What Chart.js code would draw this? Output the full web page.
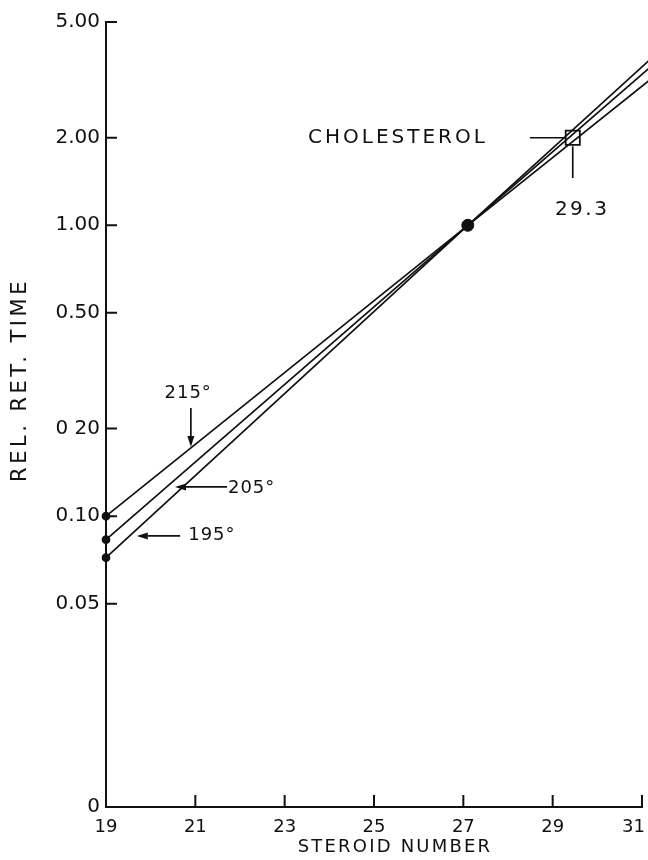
<!DOCTYPE html>
<html>
<head>
<meta charset="utf-8">
<script src="https://cdn.jsdelivr.net/npm/chart.js@4.4.1/dist/chart.umd.min.js"></script>
<style>
  body { margin: 0; background: #fff; }
  #chart { display: block; }
</style>
</head>
<body>
<canvas id="chart" width="648" height="860"></canvas>
<script>
// values
const steroidNum = [19, 27.1, 31.15];
const rrt215 = [0.100, 1.00, 3.14];
const rrt205 = [0.083, 1.00, 3.46];
const rrt195 = [0.072, 1.00, 3.68];

const commonX = [27.1];
const commonY = [1.00];

const cholX = [29.45];
const cholY = [2.00];

const xTicks = [19, 21, 23, 25, 27, 29, 31];
const yTickVals = [0.01, 0.05, 0.10, 0.20, 0.50, 1.00, 2.00, 5.00];
const yTickLabels = ["0", "0.05", "0.10", "0 20", "0.50", "1.00", "2.00", "5.00"];

const FONT = "'DejaVu Sans', sans-serif";
const INK = "#111";

function pts(xs, ys) {
    return xs.map((v, i) => ({ x: v, y: ys[i] }));
}

function lineSet(ys) {
    return {
        type: 'line',
        data: pts(steroidNum, ys),
        borderColor: INK,
        borderWidth: 1.7,
        backgroundColor: INK,
        pointRadius: [3.5, 0, 0],
        pointHoverRadius: 0,
        tension: 0,
        clip: false
    };
}

// annotation positions, in data units
const notes = [
    { text: "215°", x: 20.84, y: 0.265, size: 18, ls: 1, align: 'center' },
    { text: "205°", x: 21.73, y: 0.125, size: 18, ls: 1, align: 'left' },
    { text: "195°", x: 20.84, y: 0.0861, size: 18, ls: 1, align: 'left' },
    { text: "CHOLESTEROL", x: 27.55, y: 2.0, size: 20, ls: 3, align: 'right' },
    { text: "29.3", x: 29.66, y: 1.13, size: 20, ls: 2.5, align: 'center' }
];
const arrows = [
    { x1: 20.90, y1: 0.2355, x2: 20.90, y2: 0.173 },
    { x1: 21.71, y1: 0.126, x2: 20.545, y2: 0.126 },
    { x1: 20.66, y1: 0.0855, x2: 19.69, y2: 0.0855 }
];
const leaders = [
    { x1: 28.49, y1: 2.0, x2: 29.30, y2: 2.0 },
    { x1: 29.45, y1: 1.87, x2: 29.45, y2: 1.455 }
];

const overlay = {
    id: 'overlay',
    afterDraw(chart) {
        const ctx = chart.ctx;
        const x = chart.scales.x, y = chart.scales.y;
        const area = chart.chartArea;
        ctx.save();
        ctx.strokeStyle = INK;
        ctx.fillStyle = INK;

        // inward tick marks
        ctx.lineWidth = 2;
        ctx.beginPath();
        x.ticks.forEach(t => {
            const px = x.getPixelForValue(t.value);
            ctx.moveTo(px, area.bottom);
            ctx.lineTo(px, area.bottom - 12);
        });
        y.ticks.forEach(t => {
            const py = y.getPixelForValue(t.value);
            ctx.moveTo(area.left, py);
            ctx.lineTo(area.left + 11, py);
        });
        ctx.stroke();

        // leader lines
        ctx.lineWidth = 1.7;
        ctx.beginPath();
        leaders.forEach(l => {
            ctx.moveTo(x.getPixelForValue(l.x1), y.getPixelForValue(l.y1));
            ctx.lineTo(x.getPixelForValue(l.x2), y.getPixelForValue(l.y2));
        });
        ctx.stroke();

        // arrows
        arrows.forEach(a => {
            const x1 = x.getPixelForValue(a.x1), y1 = y.getPixelForValue(a.y1);
            const x2 = x.getPixelForValue(a.x2), y2 = y.getPixelForValue(a.y2);
            const ang = Math.atan2(y2 - y1, x2 - x1);
            const len = 11, half = 3.5;
            ctx.beginPath();
            ctx.moveTo(x1, y1);
            ctx.lineTo(x2 - Math.cos(ang) * len, y2 - Math.sin(ang) * len);
            ctx.stroke();
            ctx.beginPath();
            ctx.moveTo(x2, y2);
            ctx.lineTo(x2 - Math.cos(ang) * len - Math.sin(ang) * half, y2 - Math.sin(ang) * len + Math.cos(ang) * half);
            ctx.lineTo(x2 - Math.cos(ang) * len + Math.sin(ang) * half, y2 - Math.sin(ang) * len - Math.cos(ang) * half);
            ctx.closePath();
            ctx.fill();
        });

        // labels
        ctx.textBaseline = 'middle';
        notes.forEach(n => {
            ctx.font = n.size + "px " + FONT;
            ctx.letterSpacing = n.ls + "px";
            ctx.textAlign = n.align;
            ctx.fillText(n.text, x.getPixelForValue(n.x), y.getPixelForValue(n.y));
        });

        // axis titles
        ctx.textAlign = 'center';
        ctx.font = "18px " + FONT;
        ctx.letterSpacing = "2.2px";
        ctx.fillText("STEROID NUMBER", (area.left + area.right) / 2 + 21, 847);

        ctx.save();
        ctx.translate(21, 380);
        ctx.rotate(-Math.PI / 2);
        ctx.font = "21px " + FONT;
        ctx.letterSpacing = "3.5px";
        ctx.fillText("REL. RET. TIME", 0, 0);
        ctx.restore();

        ctx.restore();
    }
};

const ctx = document.getElementById('chart').getContext('2d');
const chart = new Chart(ctx, {
    type: 'scatter',
    data: {
        datasets: [
            lineSet(rrt215),
            lineSet(rrt205),
            lineSet(rrt195),
            {
                data: pts(commonX, commonY),
                backgroundColor: INK,
                borderColor: INK,
                pointRadius: 6,
                pointHoverRadius: 6
            },
            {
                data: pts(cholX, cholY),
                pointStyle: 'rect',
                backgroundColor: '#fff',
                borderColor: INK,
                borderWidth: 1.8,
                pointRadius: 10,
                pointHoverRadius: 10
            }
        ]
    },
    options: {
        responsive: false,
        animation: false,
        events: [],
        layout: { autoPadding: false, padding: { left: 0, right: 6, top: 22, bottom: 0 } },
        plugins: {
            legend: { display: false },
            tooltip: { enabled: false }
        },
        scales: {
            x: {
                type: 'linear',
                min: 19,
                max: 31,
                afterBuildTicks: s => { s.ticks = xTicks.map(v => ({ value: v })); },
                afterFit: s => { s.height = 53; s.paddingLeft = 0; s.paddingRight = 0; },
                grid: { display: false, drawTicks: false },
                border: { display: true, color: INK, width: 2 },
                ticks: {
                    color: INK,
                    font: { family: FONT, size: 18 },
                    padding: 10,
                    maxRotation: 0,
                    // last label sits left of its tick, as in the print
                    callback: (v, i) => i === xTicks.length - 1 ? v + "   " : String(v)
                }
            },
            y: {
                type: 'logarithmic',
                min: 0.01,
                max: 5,
                afterBuildTicks: s => { s.ticks = yTickVals.map(v => ({ value: v })); },
                afterFit: s => { s.width = 106; s.paddingTop = 0; s.paddingBottom = 0; },
                grid: { display: false, drawTicks: false },
                border: { display: true, color: INK, width: 2 },
                ticks: {
                    color: INK,
                    font: { family: FONT, size: 20 },
                    padding: 6,
                    callback: (v, i) => yTickLabels[i]
                }
            }
        }
    },
    plugins: [overlay]
});
</script>
</body>
</html>
